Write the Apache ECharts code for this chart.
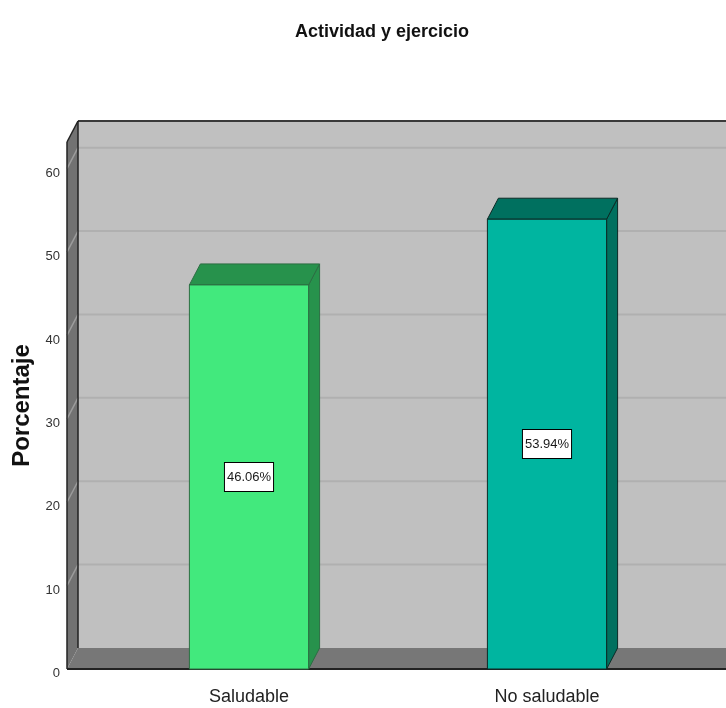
<!DOCTYPE html>
<html>
<head>
<meta charset="utf-8">
<title>Actividad y ejercicio</title>
<script src="https://cdn.jsdelivr.net/npm/echarts@6/dist/echarts.min.js"></script>
<style>
  html, body { margin: 0; padding: 0; background: #ffffff; }
  #chart { width: 726px; height: 708px; }
</style>
</head>
<body>
<div id="chart"></div>
<script>
// Categories and their percentages
const categories = ['Saludable', 'No saludable'];
const percentages = [46.06, 53.94];
// Gridline values on the back wall
const yTicks = [10, 20, 30, 40, 50, 60];

// Per-category colours: front face, shaded faces, outline
const frontColors = ['#42e97d', '#00b5a0'];
const shadeColors = ['#27924c', '#00705f'];
const edgeColors = ['#2c6e43', '#0b2b26'];

// 3D depth of walls and boxes (pixels)
const DEPTH_X = 11;
const DEPTH_Y = 21;
const AXIS_OFFSET = 33;
const BAR_RATIO = 0.4;

const FONT = '"Liberation Sans", Arial, sans-serif';

const chart = echarts.init(document.getElementById('chart'));

function renderWalls(params, api) {
  const cs = params.coordSys;
  const x0 = cs.x - AXIS_OFFSET;
  const yTop = cs.y;
  const yBase = cs.y + cs.height;
  const right = api.getWidth();
  const bx = x0 + DEPTH_X;
  const children = [];

  children.push({
    type: 'rect',
    shape: { x: bx, y: yTop - DEPTH_Y, width: right - bx, height: yBase - yTop },
    style: { fill: '#c0c0c0' }
  });
  children.push({
    type: 'polygon',
    shape: { points: [[x0, yTop], [bx, yTop - DEPTH_Y], [bx, yBase - DEPTH_Y], [x0, yBase]] },
    style: { fill: '#727272' }
  });
  children.push({
    type: 'polygon',
    shape: { points: [[x0, yBase], [bx, yBase - DEPTH_Y], [right, yBase - DEPTH_Y], [right, yBase]] },
    style: { fill: '#777777' }
  });

  yTicks.forEach(function (t) {
    const y = api.coord([0, t])[1];
    children.push({
      type: 'line',
      shape: { x1: bx, y1: y - DEPTH_Y, x2: right, y2: y - DEPTH_Y },
      style: { stroke: '#b0b0b0', lineWidth: 2 }
    });
    children.push({
      type: 'line',
      shape: { x1: x0, y1: y, x2: bx, y2: y - DEPTH_Y },
      style: { stroke: '#9c9c9c', lineWidth: 1.5 }
    });
  });

  const edge = { stroke: '#222222', lineWidth: 1.5 };
  children.push({ type: 'line', shape: { x1: bx, y1: yTop - DEPTH_Y, x2: right, y2: yTop - DEPTH_Y }, style: { stroke: '#3a3a3a', lineWidth: 2 } });
  children.push({ type: 'line', shape: { x1: bx, y1: yTop - DEPTH_Y, x2: bx, y2: yBase - DEPTH_Y }, style: edge });
  children.push({ type: 'line', shape: { x1: x0, y1: yTop, x2: bx, y2: yTop - DEPTH_Y }, style: edge });
  children.push({ type: 'line', shape: { x1: x0, y1: yTop, x2: x0, y2: yBase }, style: edge });
  children.push({ type: 'line', shape: { x1: x0, y1: yBase, x2: right, y2: yBase }, style: { stroke: '#222222', lineWidth: 2 } });

  return { type: 'group', children: children };
}

function renderBox(params, api) {
  const idx = api.value(0);
  const v = api.value(1);
  const top = api.coord([idx, v]);
  const base = api.coord([idx, 0]);
  const w = api.size([1, 0])[0] * BAR_RATIO;
  const xl = top[0] - w / 2;
  const xr = top[0] + w / 2;
  const yt = top[1];
  const yb = base[1];
  const edge = edgeColors[idx];

  return {
    type: 'group',
    children: [
      {
        type: 'polygon',
        shape: { points: [[xr, yt], [xr + DEPTH_X, yt - DEPTH_Y], [xr + DEPTH_X, yb - DEPTH_Y], [xr, yb]] },
        style: { fill: shadeColors[idx], stroke: edge, lineWidth: 1 }
      },
      {
        type: 'polygon',
        shape: { points: [[xl, yt], [xl + DEPTH_X, yt - DEPTH_Y], [xr + DEPTH_X, yt - DEPTH_Y], [xr, yt]] },
        style: { fill: shadeColors[idx], stroke: edge, lineWidth: 1 }
      },
      {
        type: 'rect',
        shape: { x: xl, y: yt, width: w, height: yb - yt },
        style: { fill: frontColors[idx], stroke: edge, lineWidth: 1 }
      },
      {
        type: 'text',
        style: {
          text: v.toFixed(2) + '%',
          x: top[0],
          y: (yt + yb) / 2,
          align: 'center',
          verticalAlign: 'middle',
          fill: '#1a1a1a',
          font: '13px ' + FONT,
          backgroundColor: '#ffffff',
          borderColor: '#000000',
          borderWidth: 1,
          padding: [8, 2, 7, 2]
        }
      }
    ]
  };
}

chart.setOption({
  animation: false,
  backgroundColor: '#ffffff',
  title: {
    text: 'Actividad y ejercicio',
    left: 377,
    top: 18,
    textAlign: 'center',
    textStyle: { fontFamily: FONT, fontWeight: 'bold', fontSize: 18, color: '#111111' }
  },
  grid: { left: 100, right: 30, top: 142, bottom: 39 },
  xAxis: {
    type: 'category',
    data: categories,
    axisLine: { show: false },
    axisTick: { show: false },
    axisLabel: { fontFamily: FONT, fontSize: 18, color: '#222222', margin: 19 }
  },
  yAxis: {
    type: 'value',
    min: 0,
    max: 63.2,
    interval: 10,
    offset: AXIS_OFFSET,
    name: 'Porcentaje',
    nameLocation: 'middle',
    nameRotate: 90,
    nameGap: 31,
    nameTextStyle: { fontFamily: FONT, fontWeight: 'bold', fontSize: 24, color: '#111111' },
    axisLine: { show: false },
    axisTick: { show: false },
    splitLine: { show: false },
    axisLabel: { fontFamily: FONT, fontSize: 13, color: '#333333', margin: 7, showMaxLabel: false, verticalAlign: 'top', lineHeight: 9 }
  },
  series: [
    {
      type: 'custom',
      name: 'walls',
      clip: false,
      silent: true,
      z: 1,
      data: [[0, 0]],
      renderItem: renderWalls
    },
    {
      type: 'custom',
      name: 'Porcentaje',
      clip: false,
      z: 2,
      encode: { x: 0, y: 1 },
      data: percentages.map(function (v, i) { return [i, v]; }),
      renderItem: renderBox
    }
  ]
});
</script>
</body>
</html>
